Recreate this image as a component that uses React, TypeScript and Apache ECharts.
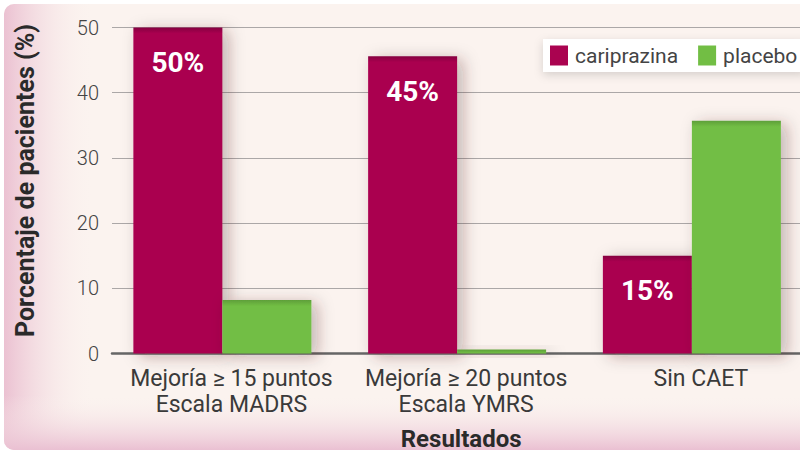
import React, { useEffect, useRef } from "react";
import * as echarts from "echarts";

const categories = ["Mejoría ≥ 15 puntos\nEscala MADRS", "Mejoría ≥ 20 puntos\nEscala YMRS", "Sin CAET"];
const cariprazina = [50, 45.6, 15];
const cariprazinaLabels = ["50%", "45%", "15%"];
const placebo = [8.2, 0.6, 35.7];
const seriesNames = ["cariprazina", "placebo"];
const yTicks = { min: 0, max: 50, interval: 10 };

const FONT = "Roboto, 'Noto Sans', sans-serif";
const PX_PER_UNIT = 6.52;

function withTopShade(values: number[], dark: string, base: string) {
  return values.map((v) => {
    const h = Math.max(v * PX_PER_UNIT, 1);
    const s = Math.min(6 / h, 0.9);
    return {
      value: v,
      itemStyle: {
        color: new echarts.graphic.LinearGradient(0, 0, 0, 1, [
          { offset: 0, color: dark },
          { offset: s, color: base },
          { offset: 1, color: base },
        ]),
      },
    };
  });
}

export default function App() {
  const ref = useRef<HTMLDivElement>(null);
  useEffect(() => {
    if (!ref.current) return;
    const chart = echarts.init(ref.current, null, { renderer: "svg" });
    const shadow = { shadowBlur: 16, shadowOffsetX: 6, shadowOffsetY: 3, shadowColor: "rgba(60,30,30,0.3)" };
    chart.setOption({
      animation: false,
      graphic: {
        elements: [
          { type: "rect", z: -100, shape: { x: 4, y: 4, width: 830, height: 446, r: 10 }, style: { fill: "#FBF3EF" } },
          {
            type: "rect", z: -99, shape: { x: 4, y: 4, width: 90, height: 446, r: [10, 0, 0, 10] },
            style: {
              fill: new echarts.graphic.LinearGradient(0, 0, 1, 0, [
                { offset: 0, color: "rgba(234,190,208,0.95)" },
                { offset: 1, color: "rgba(251,243,239,0)" },
              ]),
            },
          },
          {
            type: "rect", z: -98, shape: { x: 4, y: 395, width: 830, height: 55, r: [0, 0, 0, 10] },
            style: {
              fill: new echarts.graphic.LinearGradient(0, 0, 0, 1, [
                { offset: 0, color: "rgba(251,243,239,0)" },
                { offset: 1, color: "rgba(234,192,210,1)" },
              ]),
            },
          },
        ],
      },
      legend: {
        data: seriesNames,
        orient: "horizontal",
        left: 543,
        top: 39,
        width: 500,
        icon: "rect",
        itemWidth: 18,
        itemHeight: 20,
        itemGap: 20,
        padding: [6, 8, 6, 7],
        backgroundColor: "#ffffff",
        shadowBlur: 10,
        shadowOffsetY: 3,
        shadowColor: "rgba(0,0,0,0.15)",
        textStyle: { fontSize: 21, color: "#444", fontFamily: FONT, padding: [0, 0, 0, 2] },
      },
      grid: [
        { left: 112, top: 27.5, width: 720, bottom: 97.5, outerBoundsMode: "none", containLabel: false },
        { left: 105, top: 27.5, width: 704.25, bottom: 97.5, outerBoundsMode: "none", containLabel: false },
      ],
      xAxis: [
        {
          gridIndex: 0, type: "value", min: 0, max: 1,
          axisLine: { show: true, lineStyle: { color: "#666", width: 2.5 } },
          axisTick: { show: false }, axisLabel: { show: false }, splitLine: { show: false },
        },
        {
          gridIndex: 1, type: "category", data: categories,
          axisLine: { show: false }, axisTick: { show: false },
          axisLabel: {
            interval: 0, margin: 12, fontSize: 23, lineHeight: 26, color: "#3a3a3a", fontFamily: FONT,
            padding: [0, 0, 0, 18],
          },
          name: "Resultados", nameLocation: "middle", nameGap: 73,
          nameTextStyle: { fontSize: 24, fontWeight: "bold", color: "#2a2a2a", fontFamily: FONT, padding: [0, 0, 0, 8] },
        },
      ],
      yAxis: [
        {
          gridIndex: 0, type: "value", ...yTicks,
          axisLine: { show: false }, axisTick: { show: false },
          axisLabel: { margin: 13, fontSize: 20, color: "#444", fontFamily: FONT, fontWeight: 300, padding: [0, 0, 10, 0] },
          splitLine: { lineStyle: { color: "#ABA7A7", width: 1.2 } },
          name: "Porcentaje de pacientes (%)", nameLocation: "middle", nameGap: 74,
          nameTextStyle: { fontSize: 25, fontWeight: "bold", color: "#2a2a2a", fontFamily: FONT, padding: [0, 0, 0, 20] },
        },
        { gridIndex: 1, type: "value", ...yTicks, show: false, splitLine: { show: false } },
      ],
      series: [
        {
          name: seriesNames[0], type: "bar", xAxisIndex: 1, yAxisIndex: 1,
          data: withTopShade(cariprazina, "#85003F", "#AA0350"), barWidth: 89, barGap: "0%",
          itemStyle: { color: "#AA0350", ...shadow },
          label: {
            show: true, position: "insideTop", distance: 21,
            formatter: (p: any) => cariprazinaLabels[p.dataIndex],
            color: "#fff", fontSize: 28, fontWeight: "bold", fontFamily: FONT,
          },
        },
        {
          name: seriesNames[1], type: "bar", xAxisIndex: 1, yAxisIndex: 1,
          data: withTopShade(placebo, "#5E9F39", "#72BE44"), barWidth: 89, barGap: "0%",
          itemStyle: { color: "#72BE44", ...shadow },
        },
      ],
    });
    return () => chart.dispose();
  }, []);
  return (
    <div
      ref={ref}
      style={{ position: "fixed", left: 0, top: 0, width: 800, height: 451, background: "#ffffff" }}
    />
  );
}
